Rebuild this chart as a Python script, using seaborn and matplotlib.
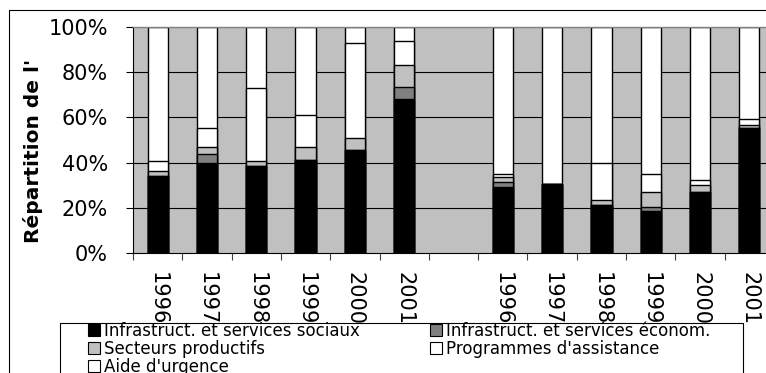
import numpy as np
import pandas as pd
import matplotlib
matplotlib.use("Agg")
import matplotlib.pyplot as plt
import seaborn as sns
from matplotlib.patches import Rectangle, Patch

# Years shown in each of the two groups of bars
annees = ["1996", "1997", "1998", "1999", "2000", "2001"]

# Shares (%) per component, first group then second group
sociaux_g1 = [34.1, 39.7, 38.5, 41.2, 45.6, 68.0]
econ_g1 = [0.0, 4.1, 0.0, 0.0, 0.0, 5.3]
productifs_g1 = [2.3, 3.2, 2.3, 5.8, 5.1, 9.7]
assistance_g1 = [4.4, 8.2, 32.1, 14.1, 42.1, 11.0]
urgence_g1 = [59.2, 44.8, 27.1, 38.9, 7.2, 6.0]

sociaux_g2 = [29.3, 30.4, 21.4, 18.4, 27.1, 55.4]
econ_g2 = [2.3, 0.0, 0.0, 2.1, 0.0, 0.0]
productifs_g2 = [2.2, 0.0, 2.1, 6.5, 2.9, 1.2]
assistance_g2 = [1.2, 0.0, 16.2, 8.1, 2.3, 2.5]
urgence_g2 = [65.0, 69.6, 60.3, 64.9, 67.7, 40.9]

composantes = [
    "Infrastruct. et services sociaux",
    "Infrastruct. et services économ.",
    "Secteurs productifs",
    "Programmes d'assistance",
    "Aide d'urgence",
]
couleurs = ["#000000", "#808080", "#C0C0C0", "#FFFFFF", "#FFFFFF"]

valeurs = np.array([
    sociaux_g1 + sociaux_g2,
    econ_g1 + econ_g2,
    productifs_g1 + productifs_g2,
    assistance_g1 + assistance_g2,
    urgence_g1 + urgence_g2,
])
cumul = np.cumsum(valeurs, axis=0)

cles = [f"A-{a}" for a in annees] + [f"B-{a}" for a in annees]
ordre = cles[:6] + ["vide"] + cles[6:]
df = pd.DataFrame({"barre": cles})
for k in range(len(composantes)):
    df[f"c{k}"] = cumul[k]

plt.rcParams["font.family"] = ["DejaVu Sans"]

W, H = 766, 373
fig = plt.figure(figsize=(W / 100, H / 100), dpi=100)
fig.patch.set_facecolor("white")
ax = fig.add_axes([133 / W, (H - 253) / H, 641 / W, 226 / H])
ax.set_facecolor("#C0C0C0")

# stacked bars: draw cumulative totals from the top layer downwards
for k in reversed(range(len(composantes))):
    sns.barplot(data=df, x="barre", y=f"c{k}", order=ordre, color=couleurs[k],
                width=0.41, edgecolor="black", linewidth=1.0, saturation=1,
                errorbar=None, ax=ax, zorder=2)

ax.set_xlim(-0.5, 12.5)
ax.set_ylim(0, 100)

# horizontal gridlines
yt = list(range(0, 101, 20))
for v in yt[1:-1]:
    ax.axhline(v, color="black", lw=0.8, zorder=0.5)

# category axis: ticks between slots, labels at slot centres
ax.set_xlabel("")
ax.set_xticks(np.arange(-0.5, 13, 1))
ax.set_xticklabels([])
ax.set_xticks(np.arange(13), minor=True)
ax.set_xticklabels(annees + [""] + annees, minor=True, rotation=270, fontsize=15)
ax.tick_params(axis="x", which="major", direction="out", length=5, width=0.8, color="#404040")
ax.tick_params(axis="x", which="minor", length=0, pad=13.5)

ax.set_yticks(yt)
ax.set_yticklabels([f"{v}%" for v in yt], fontsize=15)
ax.tick_params(axis="y", direction="out", length=5, width=0.8, color="black", pad=13)

ax.set_ylabel("Répartition de l'", fontsize=14.5, fontweight="bold")
ax.yaxis.set_label_coords(-0.1404, 0.451)

for s in ("left", "bottom"):
    ax.spines[s].set_color("black")
    ax.spines[s].set_linewidth(0.8)
for s in ("top", "right"):
    ax.spines[s].set_color("#808080")
    ax.spines[s].set_linewidth(1.0)

# outer chart border
fig.add_artist(Rectangle((8.5 / W, -0.1), 1.2, (H - 9.5) / H + 0.1,
                         transform=fig.transFigure, fill=False,
                         edgecolor="black", lw=0.8, zorder=1))
# legend frame
fig.add_artist(Rectangle((60 / W, -0.1), (743 - 60) / W, (H - 323) / H + 0.1,
                         transform=fig.transFigure, facecolor="white",
                         edgecolor="black", lw=0.8, zorder=3))

poignees = [Patch(facecolor=c, edgecolor="black", lw=0.8) for c in couleurs]
opts = dict(loc="upper left", frameon=False, fontsize=12, borderpad=0,
            borderaxespad=0, handlelength=0.72, handleheight=0.72,
            handletextpad=0.25, labelspacing=0.0)
leg1 = fig.legend(handles=[poignees[0], poignees[2], poignees[4]],
                  labels=[composantes[0], composantes[2], composantes[4]],
                  bbox_to_anchor=(88 / W, 1 - 321.5 / H), **opts)
leg2 = fig.legend(handles=[poignees[1], poignees[3]],
                  labels=[composantes[1], composantes[3]],
                  bbox_to_anchor=(430 / W, 1 - 321.5 / H), **opts)
leg1.set_zorder(5)
leg2.set_zorder(5)

fig.savefig("out.png", dpi=100)
